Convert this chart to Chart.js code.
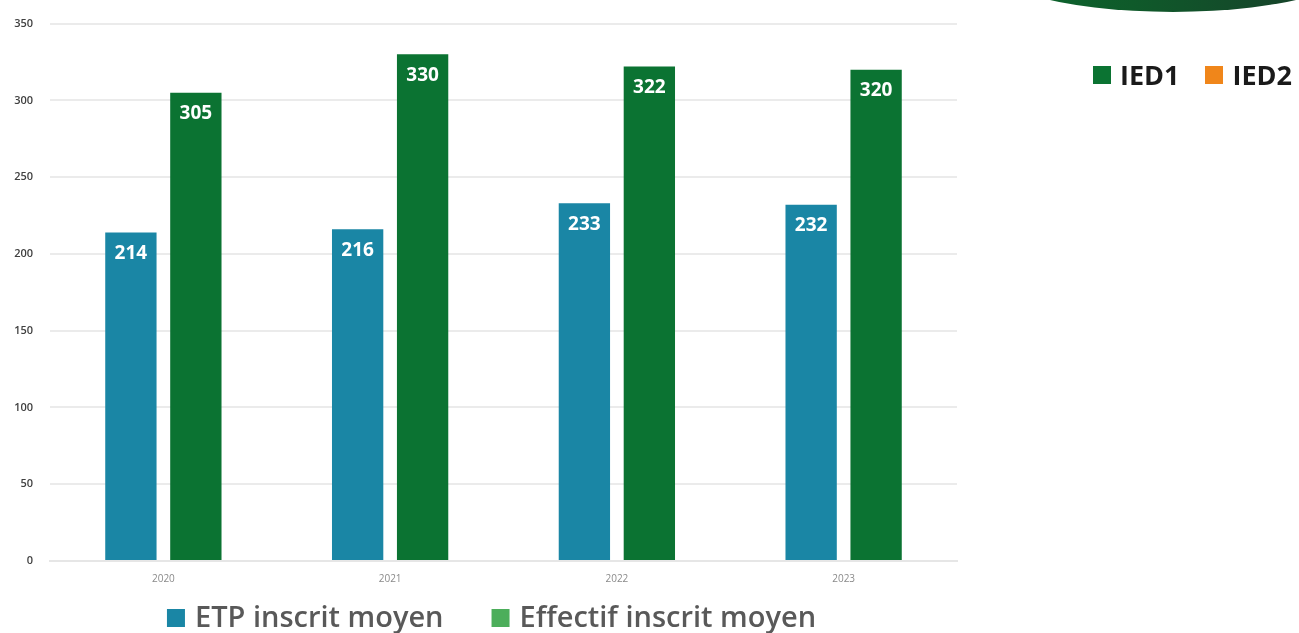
<!DOCTYPE html>
<html lang="fr">
<head>
    <meta charset="UTF-8">
    <title>ETP et effectif inscrit moyen</title>
    <script src="https://cdn.jsdelivr.net/npm/chart.js@4.4.1/dist/chart.umd.min.js"></script>
    <style>
        body { margin: 0; background: #fff; font-family: "Open Sans", sans-serif; }
        .page { position: relative; width: 1299px; height: 633px; overflow: hidden; }
        .chart-box { position: absolute; left: 0; top: 0; width: 1299px; height: 633px; }
        .blob {
            position: absolute; left: 968px; top: -108px; width: 410px; height: 120px;
            border-radius: 50%;
            background: linear-gradient(to right, #0c6a30 0%, #0f5a2a 40%, #15462a 75%, #1a3a22 100%);
        }
        .ied-legend { position: absolute; left: 1093px; top: 56px; display: flex; align-items: center;
            font-weight: 700; font-size: 27px; color: #1a1a1a; }
        .ied-legend .sq { width: 18px; height: 18px; margin-right: 9px; }
        .ied-legend .item { display: flex; align-items: center; margin-right: 26px; }
    </style>
</head>
<body>
<div class="page">
    <div class="blob"></div>
    <div class="chart-box"><canvas id="chart"></canvas></div>
    <div class="ied-legend">
        <div class="item"><div class="sq" style="background:#0b7332"></div>IED1</div>
        <div class="item"><div class="sq" style="background:#f0861a"></div>IED2</div>
    </div>
</div>

<script>
    // data
    const years = ['2020', '2021', '2022', '2023'];
    const etpInscrit = [214, 216, 233, 232];
    const effectifInscrit = [305, 330, 322, 320];
    const seriesNames = ['ETP inscrit moyen', 'Effectif inscrit moyen'];
    const yTicks = [0, 50, 100, 150, 200, 250, 300, 350];

    const barColors = ['#1a86a5', '#0b7332'];
    const legendColors = ['#1a86a5', '#4cae5b'];

    // white value labels just inside the top of each bar
    const valueLabels = {
        id: 'valueLabels',
        afterDatasetsDraw(chart) {
            const ctx = chart.ctx;
            ctx.save();
            ctx.font = '700 19px "Open Sans"';
            ctx.fillStyle = '#ffffff';
            ctx.textAlign = 'center';
            ctx.textBaseline = 'middle';
            chart.data.datasets.forEach((ds, i) => {
                chart.getDatasetMeta(i).data.forEach((bar, j) => {
                    ctx.fillText(ds.data[j], bar.x, bar.y + 21);
                });
            });
            ctx.restore();
        }
    };

    // bottom legend (wider item spacing than the built-in one allows)
    const bottomLegend = {
        id: 'bottomLegend',
        afterDraw(chart) {
            const ctx = chart.ctx;
            const box = 18, gap = 10, spacing = 48;
            ctx.save();
            ctx.font = '600 29px "Open Sans"';
            const widths = seriesNames.map(t => box + gap + ctx.measureText(t).width);
            const total = widths.reduce((a, b) => a + b, 0) + spacing * (widths.length - 1);
            const cx = (chart.chartArea.left + chart.chartArea.right) / 2 - 12;
            let x = cx - total / 2;
            const y = 618;
            ctx.textBaseline = 'middle';
            seriesNames.forEach((t, i) => {
                ctx.fillStyle = legendColors[i];
                ctx.fillRect(x, y - box / 2, box, box);
                ctx.fillStyle = '#595959';
                ctx.fillText(t, x + box + gap, y + 1);
                x += widths[i] + spacing;
            });
            ctx.restore();
        }
    };

    new Chart(document.getElementById('chart'), {
        type: 'bar',
        data: {
            labels: years,
            datasets: [
                { label: seriesNames[0], data: etpInscrit, backgroundColor: barColors[0] },
                { label: seriesNames[1], data: effectifInscrit, backgroundColor: barColors[1] }
            ]
        },
        options: {
            responsive: true,
            maintainAspectRatio: false,
            animation: false,
            datasets: { bar: { categoryPercentage: 0.573, barPercentage: 0.79 } },
            layout: { padding: { top: 19, right: 342, left: 0, bottom: 44 } },
            plugins: {
                legend: { display: false },
                tooltip: { enabled: false }
            },
            scales: {
                x: {
                    grid: { display: false },
                    border: { color: '#e6e6e6', width: 2 },
                    ticks: { color: '#8a8a8a', font: { family: 'Open Sans', size: 10 }, padding: 4 }
                },
                y: {
                    min: 0,
                    max: 350,
                    afterFit(scale) { scale.width = 50; },
                    afterBuildTicks(scale) { scale.ticks = yTicks.map(v => ({ value: v })); },
                    border: { display: false },
                    grid: { color: '#ebebeb', lineWidth: 2, drawTicks: false },
                    ticks: { color: '#404040', font: { family: 'Open Sans', size: 11, weight: '600' }, padding: 17 }
                }
            }
        },
        plugins: [valueLabels, bottomLegend]
    });
</script>
</body>
</html>
